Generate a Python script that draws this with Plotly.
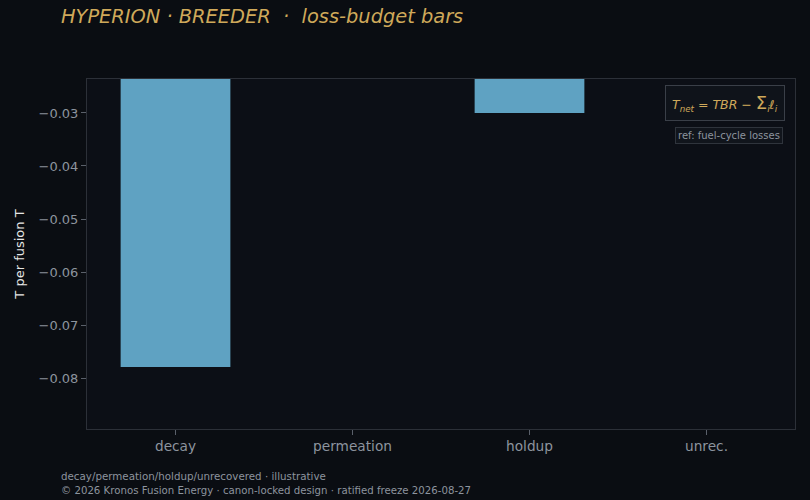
import plotly.graph_objects as go

# loss budget per category (T per fusion T)
categories = ["decay", "permeation", "holdup", "unrec."]
losses = [-0.0779, -0.012, -0.0300, -0.006]
ytick_vals = [-0.03, -0.04, -0.05, -0.06, -0.07, -0.08]

BG = "#0a0d12"
PLOT_BG = "#0c0f16"
GOLD = "#cfa95a"
GREY = "#8d949e"

W, H = 810, 500
L, R, T, B = 87, 15, 79, 71
PW, PH = W - L - R, H - T - B

fig = go.Figure(
    go.Bar(
        x=categories,
        y=losses,
        marker=dict(color="#5fa2c2", line=dict(width=0)),
    )
)

fig.update_layout(
    width=W,
    height=H,
    paper_bgcolor=BG,
    plot_bgcolor=PLOT_BG,
    font=dict(family="DejaVu Sans", color=GREY, size=13),
    margin=dict(l=L, r=R, t=T, b=B),
    bargap=0.38,
    showlegend=False,
    title=dict(
        text="<i>HYPERION · BREEDER  ·  loss-budget bars</i>",
        x=61 / W,
        xanchor="left",
        y=1 - 16 / H,
        yanchor="middle",
        font=dict(size=19.4, color=GOLD),
    ),
)

fig.update_xaxes(
    showgrid=False,
    showline=True,
    linecolor="#2c3038",
    mirror=True,
    ticks="outside",
    ticklen=5,
    tickcolor="#5a606a",
    tickfont=dict(size=13.7, color=GREY),
)
fig.update_yaxes(
    range=[-0.0896, -0.0236],
    tickvals=ytick_vals,
    tickformat=".2f",
    showgrid=False,
    zeroline=False,
    showline=True,
    linecolor="#2c3038",
    mirror=True,
    ticks="outside",
    ticklen=5,
    tickcolor="#5a606a",
    tickfont=dict(size=13, color=GREY),
    title=dict(text="T per fusion T", font=dict(size=13, color="#e6e6e6"), standoff=11),
)

# formula box + reference tag
fig.add_annotation(
    xref="paper", yref="paper", x=(785 - L) / PW, y=1 - (85 - T) / PH,
    xanchor="right", yanchor="top",
    text="<i>T<sub>net</sub> = TBR − </i><span style='font-size:18px'>Σ</span><sub><i>i</i></sub><i>ℓ<sub>i</sub></i>",
    showarrow=False,
    font=dict(size=12.5, color=GOLD),
    bgcolor="#0f131a",
    bordercolor="#3a3f48",
    borderwidth=1,
    borderpad=6,
)
fig.add_annotation(
    xref="paper", yref="paper", x=(783 - L) / PW, y=1 - (127 - T) / PH,
    xanchor="right", yanchor="top",
    text="ref: fuel-cycle losses",
    showarrow=False,
    font=dict(size=10, color=GREY),
    bgcolor="#11151c",
    bordercolor="#2f343c",
    borderwidth=1,
    borderpad=2,
)

# footer
fig.add_annotation(
    xref="paper", yref="paper", x=(59 - L) / PW, y=-(476 - (H - B)) / PH,
    xanchor="left", yanchor="middle",
    text="decay/permeation/holdup/unrecovered · illustrative",
    showarrow=False,
    font=dict(size=10.3, color=GREY),
)
fig.add_annotation(
    xref="paper", yref="paper", x=(59 - L) / PW, y=-(490 - (H - B)) / PH,
    xanchor="left", yanchor="middle",
    text="© 2026 Kronos Fusion Energy · canon-locked design · ratified freeze 2026-08-27",
    showarrow=False,
    font=dict(size=10.2, color=GREY),
)

fig.write_html(
    "out.html",
    config={"displayModeBar": False},
    post_script="document.body.style.margin='0';document.body.style.background='#0a0d12';",
)
